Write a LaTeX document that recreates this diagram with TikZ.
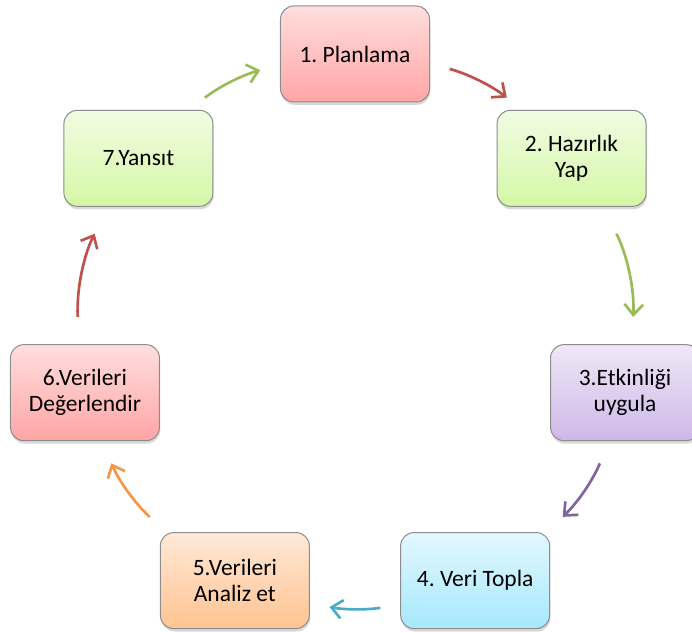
\documentclass[tikz,border=0pt]{standalone}
\usepackage{fontspec}
\setmainfont{Carlito}
\usepackage{xcolor}
\usepackage{tikz}
\usetikzlibrary{arrows.meta, shadows}
\frenchspacing

\definecolor{redtop}{HTML}{FFDEDE}
\definecolor{redbot}{HTML}{FFA5A5}
\definecolor{redline}{HTML}{C0504D}
\definecolor{greentop}{HTML}{F1FCE2}
\definecolor{greenbot}{HTML}{D4F7A6}
\definecolor{greenline}{HTML}{9BBB59}
\definecolor{purpletop}{HTML}{F0E7F8}
\definecolor{purplebot}{HTML}{CDB8E6}
\definecolor{purpleline}{HTML}{8064A2}
\definecolor{cyantop}{HTML}{E3F8FF}
\definecolor{cyanbot}{HTML}{A6E8FD}
\definecolor{cyanline}{HTML}{4BACC6}
\definecolor{orangetop}{HTML}{FFE9D8}
\definecolor{orangebot}{HTML}{FFC391}
\definecolor{orangeline}{HTML}{F79646}
\definecolor{boxline}{HTML}{8C8C8C}

\begin{document}
\begin{tikzpicture}[x=0.75pt, y=0.75pt, >={Straight Barb[length=8pt, width=14pt]},
    box/.style={rectangle, rounded corners=10pt, draw=boxline, line width=0.75pt,
        minimum width=111.75pt, minimum height=72pt, outer sep=0pt, align=center,
        font=\fontsize{17.6}{19.5}\selectfont,
        drop shadow={shadow xshift=0.6pt, shadow yshift=-2.2pt, opacity=0.3}},
    paso/.style 2 args={box, top color=#1, bottom color=#2},
    flecha/.style={->, line width=2pt, draw=#1}]
                \useasboundingbox (-355,-301) rectangle (337,331);
                % Pasos
                \node[paso={redtop}{redbot}] (plan) at (90:277) {1. Planlama};
                \node[paso={greentop}{greenbot}] (hazir) at (38.57:277) {2. Hazırlık\\Yap};
                \node[paso={purpletop}{purplebot}] (etkin) at (-12.86:277) {3.Etkinliği\\uygula};
                \node[paso={cyantop}{cyanbot}] (veri) at (-64.29:277) {4. Veri Topla};
                \node[paso={orangetop}{orangebot}] (analiz) at (-115.71:277) {5.Verileri\\Analiz et};
                \node[paso={redtop}{redbot}] (deger) at (-167.14:277) {6.Verileri\\Değerlendir};
                \node[paso={greentop}{greenbot}] (yansit) at (141.43:277) {7.Yansıt};
                % Flechas del ciclo
                \draw[flecha=redline, shorten <=15.75pt, shorten >=15.75pt] (plan.-7.9) to[bend left=10.7] (hazir.135.8);
                \draw[flecha=greenline, shorten <=23pt, shorten >=20.8pt] (hazir.-57.4) to[bend left=14.75] (etkin.82.2);
                \draw[flecha=purpleline, shorten <=18.5pt, shorten >=17pt] (etkin.-108.1) to[bend left=11.65] (veri.34.6);
                \draw[flecha=cyanline, shorten <=15.4pt, shorten >=15.4pt] (veri.-162.4) to[bend left=9.45] (analiz.-17.6);
                \draw[flecha=orangeline, shorten <=17pt, shorten >=18.5pt] (analiz.145.4) to[bend left=11.65] (deger.-71.9);
                \draw[flecha=redline, shorten <=20.8pt, shorten >=23pt] (deger.97.8) to[bend left=14.75] (yansit.-122.6);
                \draw[flecha=greenline, shorten <=15.75pt, shorten >=15.75pt] (yansit.44.2) to[bend left=10.7] (plan.-172.1);
            \end{tikzpicture}
\end{document}
